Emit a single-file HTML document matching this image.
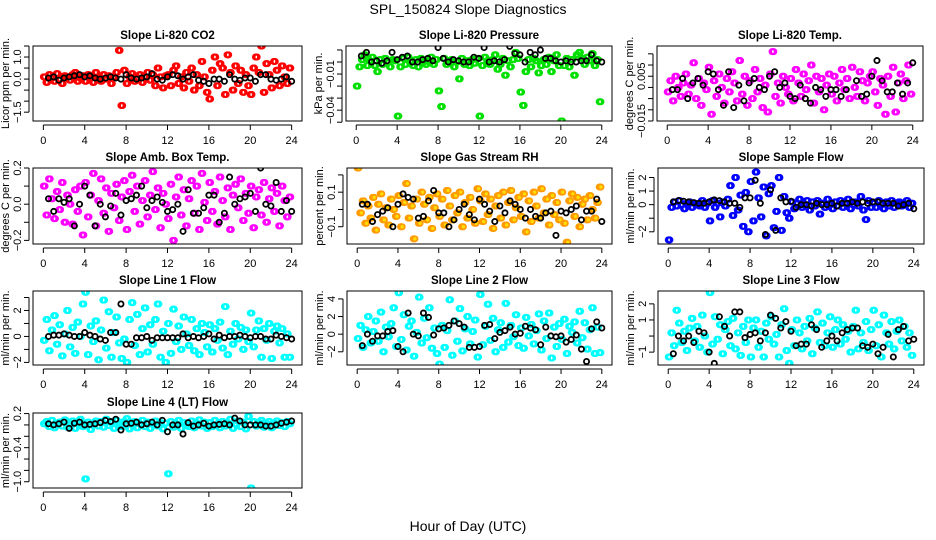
<!DOCTYPE html>
<html><head><meta charset="utf-8"><style>
html,body{margin:0;padding:0;background:#fff;}
svg{display:block;font-family:"Liberation Sans",sans-serif;}
</style></head><body>
<svg id="chart" width="936" height="540" viewBox="0 0 936 540">
<text x="468" y="14" text-anchor="middle" font-size="14">SPL_150824  Slope Diagnostics</text>
<text x="468" y="531" text-anchor="middle" font-size="14">Hour of Day (UTC)</text>
</svg>
<script>
const xTicks = [0,4,8,12,16,20,24];
const titles = ["Slope Li-820 CO2","Slope Li-820 Pressure","Slope Li-820 Temp.","Slope Amb. Box Temp.","Slope Gas Stream RH","Slope Sample Flow","Slope Line 1 Flow","Slope Line 2 Flow","Slope Line 3 Flow","Slope Line 4 (LT) Flow"];
const yTitles = ["Licor ppm per min.","kPa per min.","degrees C per min.","degrees C per min.","percent per min.","ml/min per min.","ml/min per min.","ml/min per min.","ml/min per min.","ml/min per min."];

const co2Vals = [0.1,-0.15,0.2,0.05,-0.1,0.25,0.0,-0.2,0.15,0.1,-0.05,0.2,0.3,-0.1,0.05,0.15,-0.1,0.2,0.1,-0.15,0.3,0.05,-0.1,0.2,0.0,0.15,-0.2,0.1,0.3,1.3,-1.2,0.4,-0.2,0.1,0.25,-0.1,0.05,0.2,-0.15,0.1,0.3,-0.05,0.2,-0.3,0.5,0.1,-0.4,0.15,0.2,-0.3,0.4,0.6,-0.2,0.1,-0.4,0.3,-0.1,0.5,-0.5,0.2,-0.3,0.8,0.1,-0.6,-0.9,0.4,1.0,-0.3,0.7,0.5,-0.7,1.1,0.3,-0.5,0.6,-0.2,0.4,-0.6,0.2,-0.3,-0.7,0.5,1.0,0.3,1.5,-0.6,0.7,0.2,-0.4,0.8,0.4,-0.3,0.6,0.1,-0.2,0.5];
const co2Mean = [0.05,0.1,-0.05,0.05,0.1,0.15,0.2,0.1,0.15,0.05,0.0,0.05,0.1,0.05,0.0,0.2,0.05,0.0,0.05,0.1,0.25,0.0,-0.05,0.1,0.2,0.15,0.0,0.1,0.2,-0.05,-0.1,-0.2,0.0,0.0,-0.1,0.2,0.0,-0.05,0.05,0.05,-0.1,0.2,0.2,0.0,-0.05,0.0,0.1,-0.1];
const presVals = [-0.02,-0.004,0.002,0.006,-0.003,0.001,0.004,-0.003,-0.008,0.002,-0.002,0.003,0.0,-0.004,0.002,0.001,-0.045,-0.004,0.003,-0.002,0.004,0.001,-0.003,0.002,-0.004,0.003,0.0,-0.002,0.001,0.004,-0.002,0.002,-0.024,-0.037,0.003,-0.002,0.001,0.002,-0.004,0.0,-0.014,0.003,-0.002,0.001,-0.003,0.002,-0.001,0.003,-0.045,-0.003,0.004,0.001,-0.002,0.002,0.006,-0.006,-0.002,0.003,-0.011,0.001,-0.004,0.002,0.008,0.003,-0.025,-0.036,-0.008,0.002,-0.004,0.003,0.001,-0.009,-0.003,0.002,-0.002,0.004,-0.008,0.001,0.006,-0.003,-0.049,-0.003,0.003,-0.004,0.002,-0.011,0.006,0.008,0.003,-0.002,0.004,0.001,0.007,-0.003,0.002,-0.033];
const presMean = [0.005,0.008,0.0,0.001,-0.001,0.001,0.008,0.002,0.004,0.005,0.0,0.0,0.002,0.003,0.001,0.012,0.003,0.0,0.002,0.001,0.0,0.0,0.004,0.003,0.012,0.0,0.001,0.0,0.002,0.013,0.007,0.006,0.0,0.008,0.006,0.01,0.003,0.003,0.001,0.0,0.001,0.0,0.0,0.001,0.001,0.006,0.001,0.0];
const licTVals = [-0.002,0.003,-0.006,0.005,0.0,-0.004,0.002,0.006,-0.003,0.001,0.011,-0.005,0.004,-0.008,0.002,-0.001,0.009,-0.012,0.003,-0.004,0.006,0.0,-0.007,0.004,-0.002,0.007,0.002,-0.006,0.012,-0.003,0.005,-0.008,0.003,-0.005,0.008,-0.002,0.004,-0.009,0.001,-0.011,0.006,0.016,-0.004,0.002,-0.007,0.005,0.0,-0.003,0.004,-0.006,0.008,0.002,-0.004,0.006,-0.001,0.003,0.010,-0.007,0.005,-0.002,0.004,-0.010,0.001,0.006,-0.003,0.005,-0.006,0.002,0.008,-0.001,0.004,-0.005,0.009,0.0,-0.004,0.007,0.003,-0.006,0.002,0.005,0.007,-0.002,-0.008,0.004,0.001,-0.012,0.005,-0.004,0.009,-0.011,0.002,0.006,-0.005,0.003,0.01,-0.003];
const licTMean = [-0.001,-0.001,0.004,-0.005,0.002,0.004,0.001,0.007,0.006,-0.001,-0.008,0.007,-0.009,0.001,-0.006,0.002,0.004,0.0,-0.001,0.005,0.007,0.0,0.002,-0.004,-0.005,0.001,-0.005,-0.007,0.0,-0.001,-0.004,-0.001,-0.001,-0.004,-0.001,-0.019,0.003,-0.004,-0.003,0.005,0.012,0.003,-0.002,-0.002,0.002,-0.003,0.002,0.011];
const boxTVals = [0.1,-0.06,0.14,0.03,-0.08,0.07,-0.03,0.12,-0.1,0.05,0.0,-0.11,0.08,-0.04,0.1,-0.17,0.12,-0.07,0.05,0.17,-0.12,0.02,0.14,-0.05,0.09,-0.15,0.06,-0.02,0.11,-0.09,0.04,0.13,-0.14,0.07,0.16,-0.04,0.1,-0.11,0.02,0.13,-0.07,0.05,0.18,-0.03,0.09,-0.13,0.06,0.0,-0.08,0.11,-0.2,0.04,0.15,-0.06,0.08,-0.12,0.03,0.13,-0.05,0.1,-0.14,0.17,0.01,-0.09,0.12,-0.04,0.07,-0.11,0.15,0.02,-0.07,0.09,-0.14,0.05,0.11,-0.02,0.14,-0.09,0.06,-0.05,0.1,-0.13,0.04,0.08,-0.06,0.12,-0.1,0.03,0.09,-0.04,0.06,-0.12,0.1,0.02,-0.07,0.04];
const boxTMean = [0.03,-0.04,0.03,0.01,0.03,-0.12,0.0,0.1,0.05,-0.12,0.0,-0.07,-0.01,0.06,-0.06,0.02,0.03,0.05,0.1,-0.02,0.02,0.04,0.01,-0.04,-0.03,0.0,-0.15,0.08,-0.05,-0.05,-0.02,0.05,0.05,-0.1,-0.05,0.15,0.0,0.03,0.04,0.06,-0.04,0.2,0.0,-0.01,0.12,-0.04,0.02,-0.04];
const rhVals = [0.24,-0.02,0.05,-0.08,0.02,-0.05,0.07,-0.12,0.03,0.09,-0.06,0.01,-0.09,0.06,0.0,-0.04,0.08,-0.1,0.04,0.15,-0.05,0.02,-0.17,0.06,-0.08,0.1,0.03,-0.06,0.07,-0.11,0.01,0.09,-0.04,0.06,-0.09,0.11,0.02,-0.06,0.08,-0.02,0.1,-0.1,0.04,-0.05,0.07,0.0,-0.08,0.12,0.05,-0.07,0.09,-0.03,0.06,-0.11,0.02,0.08,-0.05,0.1,-0.09,0.04,0.11,-0.06,0.01,0.07,-0.04,0.09,-0.13,0.05,-0.07,0.1,0.02,-0.05,0.12,-0.02,0.06,-0.09,0.08,-0.03,0.04,-0.06,0.1,-0.08,-0.19,0.05,0.09,-0.04,0.07,-0.1,0.03,0.06,-0.06,0.08,0.0,-0.05,0.04,0.13];
const rhMean = [0.03,0.03,-0.07,-0.03,-0.01,0.01,-0.1,0.03,0.09,0.07,0.06,-0.05,-0.04,0.05,0.11,-0.02,-0.02,-0.1,-0.06,0.0,0.03,-0.03,-0.06,0.06,0.03,-0.01,-0.07,0.02,-0.02,0.05,0.03,0.0,-0.05,0.0,-0.04,-0.05,-0.02,-0.01,-0.15,-0.01,-0.02,0.0,0.02,-0.06,-0.01,-0.01,0.06,-0.07];
const sampVals = [-2.6,-0.2,0.2,-0.1,0.3,0.0,-0.3,0.1,0.2,-0.2,0.1,0.0,-0.1,0.3,-0.2,0.1,-1.2,0.3,-0.2,0.1,-0.9,0.2,-0.1,0.4,1.4,-0.8,2.0,-0.4,0.7,-1.6,0.9,-2.0,1.7,-1.2,2.4,0.5,-0.9,1.3,-2.3,0.8,1.4,-1.7,-0.5,2.0,-1.9,0.6,-0.6,-1.0,0.2,-0.3,0.1,0.4,-0.2,0.0,0.3,-0.4,0.2,-0.1,0.3,-0.7,0.1,-0.2,0.4,0.0,-0.3,0.2,-0.1,0.3,-0.2,0.1,0.4,-0.3,0.0,0.2,-0.1,0.6,-0.4,-1.1,0.3,-0.2,0.1,-0.2,0.3,0.0,-0.3,0.2,-0.1,0.3,-0.2,0.1,0.2,-0.1,0.0,0.3,-0.2,0.1];
const sampMean = [0.2,0.3,0.25,0.2,0.15,0.1,0.1,0.2,0.35,0.3,0.2,0.1,0.1,-0.2,0.5,0.5,1.8,0.1,-2.2,1.1,-1.9,0.5,0.2,0.25,-0.2,0.0,0.0,-0.1,0.1,0.0,0.0,0.1,-0.1,0.1,0.1,0.2,0.1,0.2,0.1,0.2,0.2,0.1,0.1,0.1,-0.1,0.0,0.1,-0.3];
const line1Vals = [-0.3,1.3,-1.1,0.5,1.6,-0.6,0.9,-1.5,0.2,2.0,-0.8,0.7,-1.3,1.1,0.0,2.5,3.4,-1.4,0.8,-0.4,1.2,-1.8,0.5,2.8,-0.9,1.9,-1.6,0.3,1.5,-0.5,-1.7,-0.2,-2.0,1.3,2.6,-0.7,1.7,-1.4,0.6,2.2,-1.2,0.9,-0.6,1.3,2.5,-1.6,0.4,-2.0,1.0,-1.3,2.1,-0.4,0.8,-1.0,1.5,0.2,-0.7,1.3,-1.1,0.6,-1.4,1.0,0.3,-0.8,0.9,-1.2,0.6,-0.3,1.1,-0.9,2.3,-1.4,0.4,-0.6,1.0,-0.2,0.7,-1.0,0.5,-0.4,1.8,-0.8,0.5,1.2,-1.6,0.6,-0.3,1.0,-1.7,0.4,0.8,-0.5,0.6,-1.6,0.2,-1.6];
const line1Mean = [0.0,0.1,0.1,0.2,0.1,0.0,0.0,0.3,0.1,0.0,-0.2,-0.3,0.3,0.3,2.5,-0.6,-0.6,-0.1,-0.1,0.0,-0.3,-0.1,-0.1,-0.1,-0.1,-0.1,0.2,-0.1,0.0,-0.1,0.0,0.2,-0.2,0.1,-0.1,0.0,0.0,0.1,0.0,-0.1,0.0,0.0,-0.2,-0.2,0.1,0.0,-0.1,-0.2];
const line2Vals = [-0.5,1.0,-1.5,0.5,2.0,-1.0,0.3,1.5,-0.8,2.5,-2.0,0.8,-0.3,1.2,3.0,-1.4,4.7,-0.6,2.2,-1.8,0.9,1.5,-2.5,0.2,4.2,-1.0,1.8,-0.4,3.0,-1.6,0.7,-2.2,-3.4,1.0,-1.5,0.4,3.9,-2.4,1.5,-0.8,2.9,-1.9,0.6,2.0,-1.1,0.3,1.6,-2.6,4.5,-1.2,0.9,3.4,-0.7,1.8,-2.0,0.5,1.3,-1.5,3.5,-0.9,1.0,-0.3,2.2,-1.3,0.7,-1.6,1.9,-0.2,1.1,-1.1,0.4,2.3,-1.8,1.5,-0.5,2.4,-2.7,0.8,-1.4,1.2,-0.6,1.7,-2.2,0.9,0.2,1.4,-1.0,2.6,-0.4,1.3,-1.7,0.5,3.0,-2.2,0.8,-2.1];
const line2Mean = [-1.3,0.0,-0.8,-0.2,-0.2,0.3,0.4,-1.4,-2.0,2.4,0.0,-0.2,2.4,1.9,-0.1,0.6,0.7,1.0,1.5,1.2,0.8,-1.5,-1.5,-1.4,1.0,1.1,-0.5,0.2,0.4,0.8,0.0,0.1,0.9,0.7,0.5,-1.2,0.8,-0.2,-0.3,-0.2,-0.9,-0.6,-0.1,-1.7,-3.1,0.6,1.4,0.7];
const line3Vals = [-1.3,0.2,-0.6,1.6,0.8,-0.4,0.3,-0.9,0.5,1.1,-0.3,0.6,-0.7,1.3,0.0,-1.0,2.7,-0.5,1.2,-0.2,0.7,-1.1,0.4,0.9,-0.6,1.1,-0.8,0.2,-1.2,0.6,-0.4,1.0,-1.3,0.5,1.0,-0.7,0.3,-1.3,0.8,-0.2,1.2,-0.5,0.1,-1.3,0.7,1.7,-0.9,-1.7,0.4,-0.6,1.0,0.2,-0.8,0.6,-0.3,1.1,-1.1,0.5,1.5,-0.4,0.8,-0.6,0.2,1.2,-0.7,0.4,1.0,-0.5,0.7,-0.2,0.3,-1.0,0.6,1.6,-0.8,0.2,-0.4,0.9,-0.9,0.4,1.6,-0.6,0.7,-1.3,1.3,0.2,-0.5,0.9,-0.8,0.3,1.0,-0.3,0.6,-0.7,0.2,-1.2];
const line3Mean = [-1.1,0.0,-0.3,0.0,-0.4,0.3,0.2,-1.0,-1.7,1.2,0.6,0.0,1.5,1.5,-0.1,0.1,0.2,-0.3,0.2,1.3,1.1,0.5,0.9,0.3,-0.6,-0.5,-0.5,0.7,0.4,-0.7,-0.3,0.0,-0.3,0.2,0.4,0.5,0.5,-0.6,-0.7,-0.5,-1.1,-0.7,0.1,-1.3,0.4,0.6,-0.3,-0.2];
const line4Vals = [0.02,0.06,-0.03,0.08,-0.05,0.01,0.05,-0.02,0.09,-0.04,0.03,0.07,-0.06,0.02,0.10,-0.03,-0.95,0.05,-0.08,0.03,0.07,-0.02,0.06,-0.04,0.10,-0.01,0.04,-0.06,0.08,0.0,-0.03,0.06,0.11,-0.07,0.03,0.06,-0.05,0.02,0.08,-0.03,0.05,-0.06,0.01,0.07,-0.02,0.04,-0.07,0.03,-0.86,0.06,-0.04,0.02,0.08,-0.06,0.04,0.0,-0.03,0.07,-0.05,0.03,0.09,-0.02,0.05,-0.06,0.04,-0.03,0.08,0.01,-0.05,0.06,-0.02,0.03,0.10,-0.06,0.02,0.07,-0.03,0.05,-0.07,0.15,-1.11,0.06,-0.02,0.04,0.08,-0.04,0.02,0.06,-0.05,0.03,0.07,-0.01,0.04,-0.03,0.06,0.02];
const line4Mean = [0.02,0.0,0.02,0.05,-0.06,0.03,0.05,0.0,0.01,0.02,0.04,0.08,0.06,0.1,-0.09,0.02,0.03,0.05,0.0,0.02,0.05,0.0,0.08,-0.12,0.0,0.0,-0.16,0.04,-0.02,0.0,0.03,-0.02,0.0,0.01,0.02,0.0,0.12,0.07,0.0,0.0,0.0,0.0,-0.02,-0.02,0.0,0.03,0.05,0.07];

const yTickVals = [[-1.5,-1,-0.5,0,0.5,1,1.5],[-0.05,-0.04,-0.03,-0.02,-0.01,0,0.01],[-0.015,-0.01,-0.005,0,0.005,0.01,0.015],[-0.2,-0.1,0,0.1,0.2],[-0.1,0,0.1,0.2],[-2,-1,0,1,2],[-2,-1,0,1,2,3],[-2,0,2,4],[-1,0,1,2],[-1,-0.8,-0.6,-0.4,-0.2,0,0.2]];
const yTickLabels = [["-1.5","","","0.0","","1.0",""],["","-0.04","","","-0.01","",""],["-0.015","","","","0.005","",""],["-0.2","","0.0","","0.2"],["-0.1","","0.1",""],["-2","","0","1","2"],["-2","","0","","2",""],["-2","0","2","4"],["-1","","1","2"],["-1.0","","","-0.4","","","0.2"]];

const valSets = [co2Vals,presVals,licTVals,boxTVals,rhVals,sampVals,line1Vals,line2Vals,line3Vals,line4Vals];
const meanSets = [co2Mean,presMean,licTMean,boxTMean,rhMean,sampMean,line1Mean,line2Mean,line3Mean,line4Mean];
const colors = ["#ff0000","#00e000","#ff00ff","#ff00ff","#ff9a00","#0000ff","#00ffff","#00ffff","#00ffff","#00ffff"];
const yDomains = [[-1.9,1.5],[-0.049,0.0133],[-0.015,0.0185],[-0.22,0.2],[-0.2,0.24],[-2.9,2.7],[-2.2,3.5],[-3.5,4.9],[-1.8,2.8],[-1.11,0.21]];
const panelBoxes = [[33,46,302,121],[346,46,612,121],[657,46,923,121],[33,168,302,244],[347,168,612,244],[658,168,924,244],[33,291,302,365],[347,291,612,365],[658,291,924,365],[33,413,302,488]];

const NS="http://www.w3.org/2000/svg";
const svg=document.getElementById('chart');
function mk(tag,attrs,parent){const e=document.createElementNS(NS,tag);for(const k in attrs)e.setAttribute(k,attrs[k]);(parent||svg).appendChild(e);return e;}

panelBoxes.forEach((b,p)=>{
  const [L,T,R,B]=b;
  const g=mk('g',{});
  
  
  const xs=h=>L+(h+1)/26*(R-L);
  const [y0,y1]=yDomains[p];
  const ys=v=>B-(v-y0)/(y1-y0)*(B-T);
  const t=mk('text',{x:(L+R)/2,y:T-7,'text-anchor':'middle','font-size':'11.5','font-weight':'bold'},g);
  t.textContent=titles[p];
  
  
  const cp=mk('clipPath',{id:'c'+p},g);mk('rect',{x:L,y:T,width:R-L,height:B-T},cp);
  const pts=mk('g',{'clip-path':'url(#c'+p+')'},g);
  valSets[p].forEach((v,i)=>{
    for(let k=0;k<3;k++){
      const c=mk('circle',{cx:xs(i*0.25+k*0.0833),cy:ys(v),r:2.6,fill:p===4?'#ffdd00':'none',stroke:colors[p],'stroke-width':1.8},pts);
      
      
    }
  });
  meanSets[p].forEach((v,i)=>{
    const c=mk('circle',{cx:xs((i+1)*0.5),cy:ys(v),r:2.6,fill:'none',stroke:'#000','stroke-width':1.8},pts);
    
    
  });
  const r=mk('rect',{x:L,y:T,width:R-L,height:B-T,fill:'none',stroke:'#000','stroke-width':1},g);
  
  
  const xa=mk('g',{},g);
  
  
  mk('line',{x1:xs(0),x2:xs(24),y1:B+4,y2:B+4,stroke:'#000'},xa);
  xTicks.forEach(h=>{
    mk('line',{x1:xs(h),x2:xs(h),y1:B+4,y2:B+9,stroke:'#000'},xa);
    const tl=mk('text',{x:xs(h),y:B+23,'text-anchor':'middle','font-size':'11'},xa);
    tl.textContent=h;
  });
  const ya=mk('g',{},g);
  
  
  const tv=yTickVals[p];
  mk('line',{x1:L-4,x2:L-4,y1:ys(tv[0]),y2:ys(tv[tv.length-1]),stroke:'#000'},ya);
  tv.forEach((v,i)=>{
    mk('line',{x1:L-9,x2:L-4,y1:ys(v),y2:ys(v),stroke:'#000'},ya);
    const lab=yTickLabels[p][i];
    if(lab){const tl=mk('text',{x:0,y:0,'text-anchor':'middle','font-size':'11',transform:`translate(${L-12},${ys(v)}) rotate(-90)`},ya);tl.textContent=lab.replace('-','\u2212');}
  });
  const yt=mk('text',{x:0,y:0,'text-anchor':'middle','font-size':'11',transform:`translate(${L-24},${(T+B)/2}) rotate(-90)`},g);
  yt.textContent=yTitles[p];
  
  
});
</script>
</body></html>
